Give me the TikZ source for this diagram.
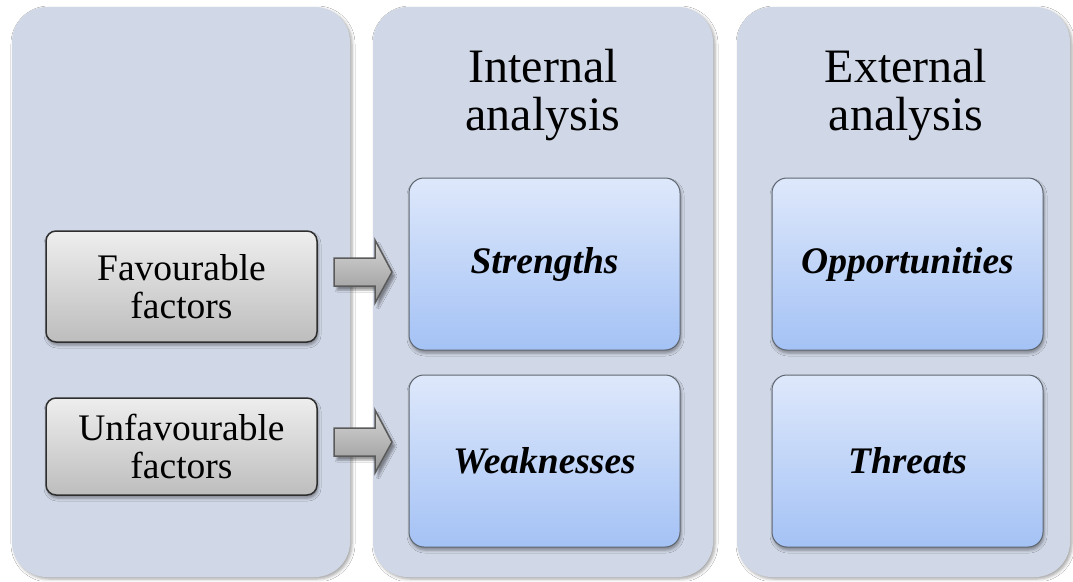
\documentclass[tikz,border=0pt]{standalone}
\usepackage{fontspec}
\setmainfont{Liberation Serif}
\usetikzlibrary{shadows.blur}

\definecolor{panelfill}{HTML}{D0D7E6}
\definecolor{quadtop}{HTML}{DEE8FB}
\definecolor{quadbottom}{HTML}{A4C2F5}
\definecolor{quadline}{HTML}{5E6670}
\definecolor{factortop}{HTML}{EEEEEE}
\definecolor{factorbottom}{HTML}{BDBDBD}
\definecolor{factorline}{HTML}{2E2E2E}
\definecolor{arrowline}{HTML}{5A5A5A}

\tikzset{
  panel/.style={rectangle, rounded corners=35pt, fill=panelfill, draw=none,
    blur shadow={shadow xshift=2pt, shadow yshift=-2pt, shadow blur radius=3pt, shadow opacity=35}},
  heading/.style={align=center, font=\fontsize{48}{48}\selectfont, inner sep=0pt},
  quadbox/.style={rectangle, rounded corners=15pt, draw=quadline, line width=1pt,
    top color=quadtop, bottom color=quadbottom, inner sep=0pt,
    minimum width=271pt, minimum height=172pt,
    font=\fontsize{37.5}{38}\selectfont\bfseries\itshape,
    blur shadow={shadow xshift=1pt, shadow yshift=-3pt, shadow blur radius=3pt, shadow opacity=40}},
  factorbox/.style={rectangle, rounded corners=10pt, draw=factorline, line width=1.5pt,
    top color=factortop, bottom color=factorbottom, inner sep=0pt,
    minimum width=271pt, align=center, font=\fontsize{37.5}{38}\selectfont,
    blur shadow={shadow xshift=1pt, shadow yshift=-3pt, shadow blur radius=3pt, shadow opacity=40}},
  blockarrow/.style={draw=arrowline, line width=1.5pt, line join=miter,
    top color=factortop!90!black, bottom color=factorbottom!80!black,
    blur shadow={shadow xshift=3pt, shadow yshift=-4pt, shadow blur radius=2pt, shadow opacity=40}},
}

\begin{document}
\begin{tikzpicture}[x=1pt, y=-1pt]
\useasboundingbox[fill=white] (0,0) rectangle (1073,581);

% three background panels
\node[panel, minimum width=338pt, minimum height=570pt] (factors) at (181,292) {};
\node[panel, minimum width=340pt, minimum height=570pt] (internal) at (543,292) {};
\node[panel, minimum width=333pt, minimum height=570pt] (external) at (903.5,292) {};

% panel headings
\node[heading] (inthead) at (543,95) {Internal\\analysis};
\node[heading] (exthead) at (906,95) {External\\analysis};

% SWOT quadrants
\node[quadbox] (str) at (544.5,264) {Strengths};
\node[quadbox] (wea) at (544.5,461) {Weaknesses};
\node[quadbox] (opp) at (907.5,264) {Opportunities};
\node[quadbox] (thr) at (907.5,461) {Threats};

% factor boxes
\node[factorbox, minimum height=111pt] (fav) at (181.5,286.5) {Favourable\\factors};
\node[factorbox, minimum height=97pt] (unf) at (181.5,446.5) {Unfavourable\\factors};

% block arrows from the factor boxes to the quadrants
\coordinate (a1) at (334,272);
\coordinate (a2) at (334,442);
\foreach \anc in {a1,a2}{
  \draw[blockarrow] ([yshift=14pt]\anc) -- ++(41,0) -- ++(0,-18) -- ++(17,32)
    -- ++(-17,31) -- ++(0,-17) -- ++(-41,0) -- cycle;
}
\end{tikzpicture}
\end{document}
